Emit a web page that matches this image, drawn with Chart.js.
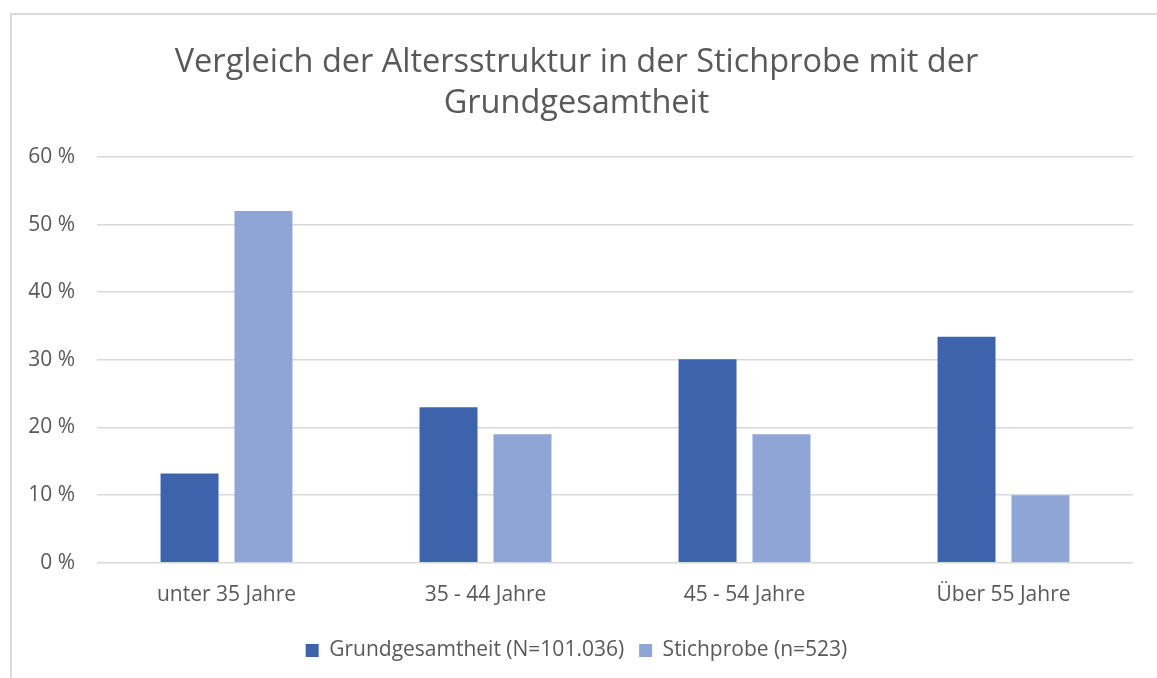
<!DOCTYPE html>
<html>
<head>
<meta charset="utf-8">
<script src="https://cdn.jsdelivr.net/npm/chart.js@4/dist/chart.umd.min.js"></script>
<style>
  body { margin: 0; background: #fff; }
  #frame {
    position: absolute; left: 10px; top: 13px; width: 1200px; height: 700px;
    border-top: 2px solid #d9d9d9; border-left: 2px solid #d9d9d9;
  }
  #wrap { position: absolute; left: 0; top: 0; width: 1157px; height: 678px; }
</style>
</head>
<body>
<div id="frame"></div>
<div id="wrap"><canvas id="AgeChart"></canvas></div>
<script>
const categories = ["unter 35 Jahre", "35 - 44 Jahre", "45 - 54 Jahre", "Über 55 Jahre"];
const grundgesamtheit = [13.2, 23.0, 30.1, 33.4];
const stichprobe = [52.0, 19.0, 19.0, 10.0];
const seriesNames = ["Grundgesamtheit (N=101.036)", "Stichprobe (n=523)"];

const textColor = "#595959";
const fontFamily = "'Open Sans', Lato, sans-serif";

const ctx = document.getElementById("AgeChart").getContext("2d");
new Chart(ctx, {
  type: "bar",
  data: {
    labels: categories,
    datasets: [
      {
        label: seriesNames[0],
        data: grundgesamtheit,
        backgroundColor: "#3d63ac",
        categoryPercentage: 0.571,
        barPercentage: 0.784,
      },
      {
        label: seriesNames[1],
        data: stichprobe,
        backgroundColor: "#8fa5d5",
        categoryPercentage: 0.571,
        barPercentage: 0.784,
      },
    ],
  },
  options: {
    responsive: true,
    maintainAspectRatio: false,
    animation: false,
    layout: { padding: { left: 20, right: 24, top: 42, bottom: 7 } },
    plugins: {
      title: {
        display: true,
        text: ["Vergleich der Altersstruktur in der Stichprobe mit der", "Grundgesamtheit"],
        color: textColor,
        font: { family: fontFamily, size: 32.5, weight: "normal", lineHeight: 1.26 },
        padding: { top: 0, bottom: 33 },
      },
      legend: {
        position: "bottom",
        labels: {
          color: textColor,
          font: { family: fontFamily, size: 21 },
          boxWidth: 13,
          boxHeight: 13,
          padding: 15,
        },
      },
      tooltip: { enabled: false },
    },
    scales: {
      x: {
        grid: { display: false },
        border: { display: false },
        ticks: { color: textColor, font: { family: fontFamily, size: 21 }, padding: 12 },
        afterFit: (scale) => { scale.height += 5; },
      },
      y: {
        min: 0,
        max: 60,
        ticks: {
          stepSize: 10,
          color: textColor,
          font: { family: fontFamily, size: 21 },
          padding: 22,
          callback: (v) => v + " %",
        },
        grid: { color: "#d9d9d9", lineWidth: 1.5, drawTicks: false },
        border: { display: false },
        afterFit: (scale) => { scale.width = 77; },
      },
    },
  },
});
</script>
</body>
</html>
